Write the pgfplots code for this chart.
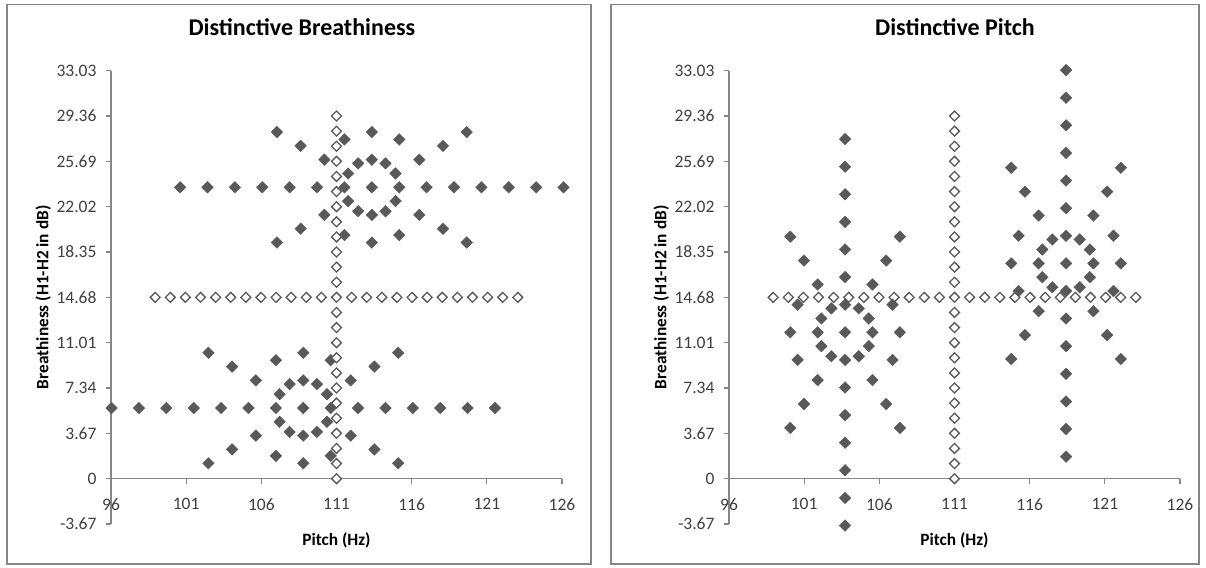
\documentclass[border=0pt]{standalone}
\usepackage{pgfplots}
\pgfplotsset{compat=1.18}
\usepackage{fontspec}
\setmainfont{Carlito}
\definecolor{mk}{RGB}{89,89,89}
\definecolor{axg}{RGB}{134,134,134}
\definecolor{tl}{RGB}{64,64,64}
\definecolor{fr}{RGB}{134,134,134}
\pgfplotsset{
 mychart/.style={
  scale only axis, width=451pt, height=453.3pt,
  xmin=96,xmax=126,ymin=-3.67,ymax=33.03,
  axis x line=middle, axis y line=left,
  axis line style={draw=axg,line width=1.2pt,-},
  xtick={96,101,106,111,116,121,126},
  xticklabels={96,101,106,111,116,121,126},
  ytick={-3.67,0,3.67,7.34,11.01,14.68,18.35,22.02,25.69,29.36,33.03},
  yticklabels={-3.67,0,3.67,7.34,11.01,14.68,18.35,22.02,25.69,29.36,33.03},
  tick align=outside, major tick length=5pt,
  tick style={draw=axg,line width=1.2pt},
  tick label style={font=\fontsize{17.5}{20}\selectfont,text=tl},
  xticklabel style={yshift=-11pt},
  yticklabel style={xshift=-6pt},
  hide obscured x ticks=false, hide obscured y ticks=false,
  clip=false,
  xlabel={Pitch (Hz)}, ylabel={Breathiness (H1-H2 in dB)},
  label style={font=\bfseries\fontsize{17.3}{20}\selectfont},
  x label style={at={(axis description cs:0.5,-0.0485)},anchor=base},
  y label style={at={(axis description cs:-0.139,0.5)},anchor=base},
  title style={font=\bfseries\fontsize{24}{28}\selectfont,anchor=base},
 },
 fmark/.style={only marks, mark=square*, mark size=4.1pt, mark options={rotate=45, fill=mk, draw=mk, line width=0.4pt}},
 omark/.style={only marks, mark=square*, mark size=3.5pt, mark options={rotate=45, fill=white, draw=mk, line width=1.3pt}},
}
\begin{document}
\begin{tikzpicture}
\useasboundingbox (0pt,0pt) rectangle (1206pt,567pt);
\draw[fr,line width=1.3pt] (7pt,3pt) rectangle (591pt,562.7pt);
\draw[fr,line width=1.3pt] (611pt,3pt) rectangle (1199pt,562.7pt);
% ---------------- left chart ----------------
\begin{axis}[mychart, at={(111pt,43pt)}, anchor=south west,
  title={Distinctive Breathiness},
  title style={at={(axis description cs:0.4233,1.064)}}]
\addplot[fmark] coordinates {
 (113.35,23.59)
 (100.596,23.59)(102.418,23.59)(104.24,23.59)(106.062,23.59)(107.884,23.59)(109.706,23.59)(111.528,23.59)
 (115.172,23.59)(116.994,23.59)(118.816,23.59)(120.638,23.59)(122.46,23.59)(124.282,23.59)(126.104,23.59)
 (111.772,22.472)(111.772,24.708)(114.928,22.472)(114.928,24.708)(112.439,21.654)(112.439,25.526)
 (114.261,21.654)(114.261,25.526)(113.35,21.355)(113.35,25.825)
 (110.194,21.355)(110.194,25.825)(116.506,21.355)(116.506,25.825)(111.528,19.719)(111.528,27.461)
 (115.172,19.719)(115.172,27.461)(113.35,19.12)(113.35,28.06)
 (108.616,20.237)(108.616,26.943)(118.084,20.237)(118.084,26.943)
 (107.038,19.12)(107.038,28.06)(119.662,19.12)(119.662,28.06)
 (108.79,5.72)
 (96.036,5.72)(97.858,5.72)(99.68,5.72)(101.502,5.72)(103.324,5.72)(105.146,5.72)(106.968,5.72)
 (110.612,5.72)(112.434,5.72)(114.256,5.72)(116.078,5.72)(117.9,5.72)(119.722,5.72)(121.544,5.72)
 (107.212,4.602)(107.212,6.838)(110.368,4.602)(110.368,6.838)(107.879,3.784)(107.879,7.656)
 (109.701,3.784)(109.701,7.656)(108.79,3.485)(108.79,7.955)
 (105.634,3.485)(105.634,7.955)(111.946,3.485)(111.946,7.955)(106.968,1.849)(106.968,9.591)
 (110.612,1.849)(110.612,9.591)(108.79,1.25)(108.79,10.19)
 (104.056,2.367)(104.056,9.073)(113.524,2.367)(113.524,9.073)
 (102.478,1.25)(102.478,10.19)(115.102,1.25)(115.102,10.19)
};
\addplot[omark] coordinates {
 (111,0)(111,1.223)(111,2.447)(111,3.67)(111,4.893)(111,6.117)(111,7.34)(111,8.563)(111,9.787)
 (111,11.01)(111,12.233)(111,13.457)(111,14.68)(111,15.903)(111,17.127)(111,18.35)(111,19.573)
 (111,20.797)(111,22.02)(111,23.243)(111,24.467)(111,25.69)(111,26.913)(111,28.137)(111,29.36)
 (98.94,14.68)(99.945,14.68)(100.95,14.68)(101.955,14.68)(102.96,14.68)(103.965,14.68)(104.97,14.68)
 (105.975,14.68)(106.98,14.68)(107.985,14.68)(108.99,14.68)(109.995,14.68)(112.005,14.68)
 (113.01,14.68)(114.015,14.68)(115.02,14.68)(116.025,14.68)(117.03,14.68)(118.035,14.68)
 (119.04,14.68)(120.045,14.68)(121.05,14.68)(122.055,14.68)(123.06,14.68)
};
\end{axis}
% ---------------- right chart ----------------
\begin{axis}[mychart, at={(729pt,43pt)}, anchor=south west,
  title={Distinctive Pitch},
  title style={at={(axis description cs:0.501,1.064)}}]
\addplot[omark] coordinates {
 (111,0)(111,1.223)(111,2.447)(111,3.67)(111,4.893)(111,6.117)(111,7.34)(111,8.563)(111,9.787)
 (111,11.01)(111,12.233)(111,13.457)(111,14.68)(111,15.903)(111,17.127)(111,18.35)(111,19.573)
 (111,20.797)(111,22.02)(111,23.243)(111,24.467)(111,25.69)(111,26.913)(111,28.137)(111,29.36)
 (98.94,14.68)(99.945,14.68)(100.95,14.68)(101.955,14.68)(102.96,14.68)(103.965,14.68)(104.97,14.68)
 (105.975,14.68)(106.98,14.68)(107.985,14.68)(108.99,14.68)(109.995,14.68)(112.005,14.68)
 (113.01,14.68)(114.015,14.68)(115.02,14.68)(116.025,14.68)(117.03,14.68)(118.035,14.68)
 (119.04,14.68)(120.045,14.68)(121.05,14.68)(122.055,14.68)(123.06,14.68)
};
\addplot[fmark] coordinates {
 (103.72,11.85)
 (103.72,14.085)(103.72,16.32)(103.72,18.555)(103.72,20.79)(103.72,23.025)(103.72,25.26)(103.72,27.495)
 (103.72,9.615)(103.72,7.38)(103.72,5.145)(103.72,2.91)(103.72,0.675)(103.72,-1.56)(103.72,-3.795)
 (101.898,11.85)(105.542,11.85)(102.142,10.732)(102.142,12.968)(105.298,10.732)(105.298,12.968)
 (102.809,9.914)(102.809,13.786)(104.631,9.914)(104.631,13.786)
 (100.076,11.85)(107.364,11.85)(100.564,9.615)(100.564,14.085)(106.876,9.615)(106.876,14.085)
 (101.898,7.979)(101.898,15.721)(105.542,7.979)(105.542,15.721)
 (100.987,6.043)(100.987,17.657)(106.453,6.043)(106.453,17.657)
 (100.076,4.108)(100.076,19.592)(107.364,4.108)(107.364,19.592)
 (118.42,17.43)
 (118.42,19.665)(118.42,21.9)(118.42,24.135)(118.42,26.37)(118.42,28.605)(118.42,30.84)(118.42,33.075)
 (118.42,15.195)(118.42,12.96)(118.42,10.725)(118.42,8.49)(118.42,6.255)(118.42,4.02)(118.42,1.785)
 (116.598,17.43)(120.242,17.43)(116.842,16.312)(116.842,18.548)(119.998,16.312)(119.998,18.548)
 (117.509,15.494)(117.509,19.366)(119.331,15.494)(119.331,19.366)
 (114.776,17.43)(122.064,17.43)(115.264,15.195)(115.264,19.665)(121.576,15.195)(121.576,19.665)
 (116.598,13.559)(116.598,21.301)(120.242,13.559)(120.242,21.301)
 (115.687,11.623)(115.687,23.237)(121.153,11.623)(121.153,23.237)
 (114.776,9.688)(114.776,25.172)(122.064,9.688)(122.064,25.172)
};
\end{axis}
\end{tikzpicture}
\end{document}
